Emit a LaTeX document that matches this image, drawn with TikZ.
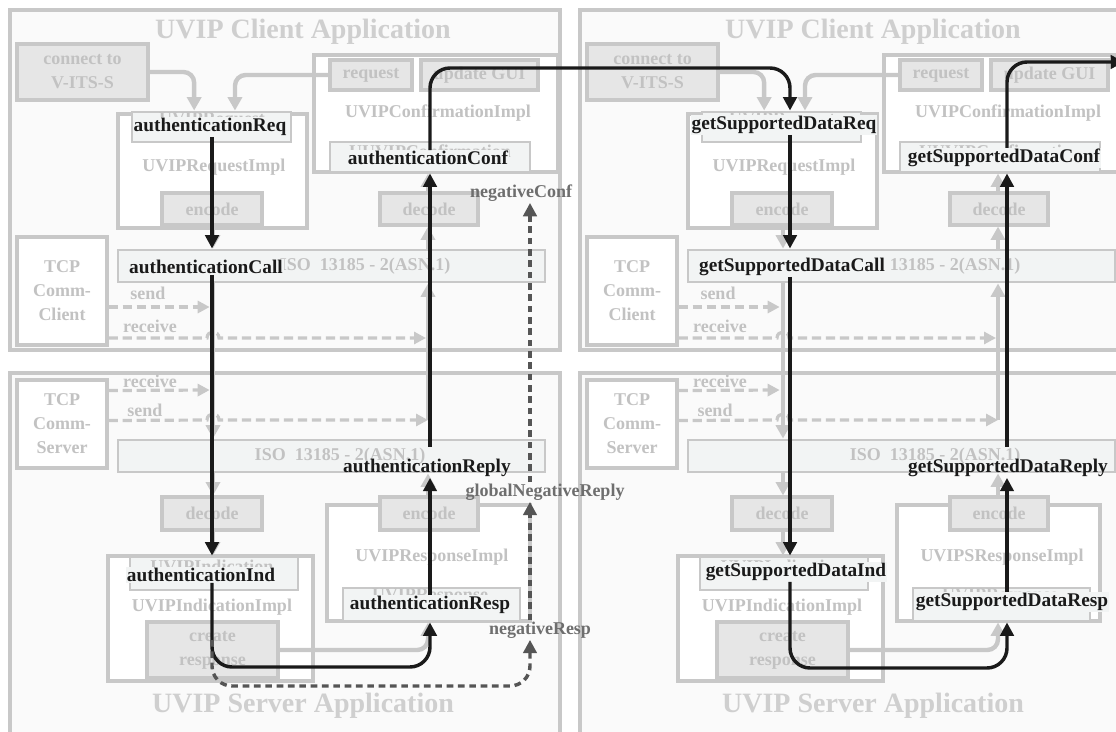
\documentclass[tikz,border=0pt]{standalone}
\usepackage{fontspec}
\setmainfont{Liberation Serif}
\usetikzlibrary{arrows.meta,fit}
\definecolor{panelfill}{HTML}{FAFAFA}
\definecolor{edge}{HTML}{C8C8C8}
\definecolor{boxfill}{HTML}{E6E6E6}
\definecolor{barfill}{HTML}{F2F4F4}
\definecolor{faint}{HTML}{C2C2C2}
\definecolor{titlegray}{HTML}{CFCFCF}
\definecolor{ink}{HTML}{1A1A1A}
\definecolor{negink}{HTML}{6E6E6E}
\definecolor{negline}{HTML}{555555}
\tikzset{
  boxbase/.style={inner sep=0pt, line width=2.4pt, draw=edge},
  panel/.style={boxbase, fill=panelfill},
  implbox/.style={boxbase, fill=white},
  opbox/.style={boxbase, fill=boxfill},
  bar/.style={boxbase, line width=2.2pt, fill=barfill},
  faintText/.style={text=faint, inner sep=0pt, align=center,
    font=\bfseries\fontsize{13.5}{18}\selectfont},
  paneltitle/.style={text=titlegray, inner sep=0pt,
    font=\bfseries\fontsize{21}{24}\selectfont},
  lbl/.style={text=ink, inner sep=0.6pt,
    font=\bfseries\fontsize{14.5}{16}\selectfont},
  lblfill/.style={lbl, fill=barfill},
  neg/.style={text=negink, inner sep=1pt,
    font=\bfseries\fontsize{13.5}{15}\selectfont},
  gflow/.style={draw=edge, line width=3.3pt, rounded corners=8pt,
    -{Triangle[length=10pt,width=10.5pt]}},
  gdash/.style={draw=edge, line width=2.4pt, dash pattern=on 7pt off 3.5pt,
    -{Triangle[length=9pt,width=9pt]}},
  flow/.style={draw=ink, line width=2.6pt, rounded corners=15pt,
    -{Triangle[length=10pt,width=10pt]}},
  negflow/.style={draw=negline, line width=2.6pt, rounded corners=15pt,
    dash pattern=on 5pt off 3.5pt, -{Triangle[length=10pt,width=10pt]}},
}
\begin{document}
\begin{tikzpicture}[x=0.75pt,y=-0.75pt]
\path[use as bounding box] (0,0) rectangle (1116,731);
\clip (0,0) rectangle (1116,731);
\fill[white] (0,0) rectangle (1116,731);

% two identical client/server stacks, side by side
\foreach \c/\s/\rimpl/\isox in {0/L/UVIPResponseImpl/340, 570/R/UVIPSResponseImpl/365} {
  % --- client application ---
  \node[panel, fit={(\c+10,10) (\c+560,350)}] (client\s) {};
  \node[paneltitle] (ctitle\s) at (\c+303,32) {UVIP Client Application};
  \node[opbox, fit={(\c+17,44) (\c+148,100)}] (connect\s) {};
  \node[faintText] (connectT\s) at (connect\s) {connect to\\V-ITS-S};
  \node[implbox, fit={(\c+314,55) (\c+558,172)}] (confImpl\s) {};
  \node[opbox, fit={(\c+330,60) (\c+412,90)}] (request\s) {};
  \node[faintText] (requestT\s) at (request\s) {request};
  \node[opbox, fit={(\c+421,60) (\c+538,90)}] (gui\s) {};
  \node[faintText] (guiT\s) at (gui\s) {update GUI};
  \node[faintText] (confImplT\s) at (\c+438,113) {UVIPConfirmationImpl};
  \node[bar, fit={(\c+330,142) (\c+530,172)}] (confIn\s) {};
  \node[faintText] (confInT\s) at (\c+430,151) {UUVIPConfirmation};
  \node[implbox, fit={(\c+118,114) (\c+307,228)}] (reqImpl\s) {};
  \node[bar, fit={(\c+132,112) (\c+291,142)}] (reqIn\s) {};
  \node[faintText] (reqInT\s) at (\c+212,121) {UVIPRequest};
  \node[faintText] (reqImplT\s) at (\c+214,167) {UVIPRequestImpl};
  \node[opbox, fit={(\c+162,193) (\c+262,225)}] (enc\s) {};
  \node[faintText] (encT\s) at (enc\s) {encode};
  \node[opbox, fit={(\c+380,193) (\c+478,225)}] (dec\s) {};
  \node[faintText] (decT\s) at (dec\s) {decode};
  \node[bar, fit={(\c+118,250) (\c+545,282)}] (isoC\s) {};
  \node[faintText] (isoCT\s) at (\c+365,266) {ISO~~13185 - 2(ASN.1)};
  \node[implbox, fit={(\c+17,237) (\c+107,345)}] (tcpC\s) {};
  \node[faintText] (tcpCT\s) at (tcpC\s) {TCP\\Comm-\\Client};
  \node[faintText] (sendCT\s) at (\c+148,293) {send};
  \node[faintText] (rcvCT\s) at (\c+150,326) {receive};

  % --- server application ---
  \node[panel, fit={(\c+10,373) (\c+560,745)}] (server\s) {};
  \node[paneltitle] (stitle\s) at (\c+303,706) {UVIP Server Application};
  \node[implbox, fit={(\c+17,380) (\c+107,468)}] (tcpS\s) {};
  \node[faintText] (tcpST\s) at (tcpS\s) {TCP\\Comm-\\Server};
  \node[faintText] (rcvST\s) at (\c+150,381) {receive};
  \node[faintText] (sendST\s) at (\c+145,410) {send};
  \node[bar, fit={(\c+118,440) (\c+545,472)}] (isoS\s) {};
  \node[faintText] (isoST\s) at (\c+\isox,456) {ISO~~13185 - 2(ASN.1)};
  \node[implbox, fit={(\c+327,505) (\c+530,621)}] (respImpl\s) {};
  \node[opbox, fit={(\c+162,497) (\c+262,530)}] (dec2\s) {};
  \node[faintText] (dec2T\s) at (dec2\s) {decode};
  \node[opbox, fit={(\c+380,497) (\c+478,530)}] (enc2\s) {};
  \node[faintText] (enc2T\s) at (enc2\s) {encode};
  \node[faintText] (respImplT\s) at (\c+432,557) {\rimpl};
  \node[bar, fit={(\c+343,588) (\c+520,621)}] (respIn\s) {};
  \node[faintText] (respInT\s) at (\c+430,597) {UVIPResponse};
  \node[implbox, fit={(\c+108,556) (\c+313,681)}] (indImpl\s) {};
  \node[bar, fit={(\c+130,557) (\c+298,590)}] (indIn\s) {};
  \node[faintText] (indInT\s) at (\c+212,566) {UVIPIndication};
  \node[faintText] (indImplT\s) at (\c+212,607) {UVIPIndicationImpl};
  \node[opbox, fit={(\c+147,622) (\c+278,678)}] (create\s) {};
  \node[faintText] (createT\s) at (create\s) {create\\response};

  % --- grey data path ---
  \coordinate (gA\s) at (\c+213,0);
  \coordinate (gB\s) at (\c+428,0);
  \coordinate (sendEnd\s) at (\c+428,420);
  \draw[gflow] (connect\s.east) -| ([xshift=-13pt]reqIn\s.north);
  \draw[gflow] (request\s.west) -| ([xshift=17.6pt]reqIn\s.north);
  \draw[gflow] (enc\s.south -| gA\s) -- (isoC\s.north -| gA\s);
  \draw[gflow] (isoC\s.north -| gB\s) -- (dec\s.south -| gB\s);
  \draw[gflow] (dec\s.north -| gB\s) -- (confImpl\s.south -| gB\s);
  \draw[gflow] (isoC\s.south -| gA\s) -- (isoS\s.north -| gA\s);
  \draw[gflow] (sendEnd\s) -- (isoC\s.south -| gB\s);
  \draw[gflow] (isoS\s.south -| gA\s) -- (dec2\s.north -| gA\s);
  \draw[gflow] (dec2\s.south -| gA\s) -- (indIn\s.north -| gA\s);
  \draw[gflow] (enc2\s.north -| gB\s) -- (isoS\s.south -| gB\s);
  \draw[gflow] (create\s.east) -| (respIn\s.south -| gB\s);
  % TCP send / receive
  \draw[gdash, shorten >=1pt] ([yshift=-12pt]tcpC\s.east) -- (\c+211,307);
  \draw[gdash] ([yshift=-35.25pt]tcpC\s.east) -- (\c+207,338)
     .. controls (\c+207,330) and (\c+219,330) .. (\c+219,338) -- (\c+426,338);
  \draw[gdash, shorten >=1pt] ([yshift=25.1pt]tcpS\s.east) -- (\c+211,390);
  \draw[gdash] ([yshift=2.6pt]tcpS\s.east) -- (\c+207,420)
     .. controls (\c+207,412) and (\c+219,412) .. (\c+219,420) -- (sendEnd\s);
}

% --- message labels ---
\node[lblfill] (aReq) at (210,127) {authenticationReq};
\node[lblfill] (aConf) at (428,158) {authenticationConf};
\node[lblfill] (aCall) at (206,267) {authenticationCall};
\node[lbl] (aReply) at (427,468) {authenticationReply};
\node[lblfill] (aInd) at (201,575) {authenticationInd};
\node[lblfill] (aResp) at (430,605) {authenticationResp};
\node[lblfill] (gReq) at (784,125) {getSupportedDataReq};
\node[lblfill] (gConf) at (1004,158) {getSupportedDataConf};
\node[lblfill] (gCall) at (792,267) {getSupportedDataCall};
\node[lbl] (gReply) at (1008,468) {getSupportedDataReply};
\node[lblfill] (gInd) at (796,572) {getSupportedDataInd};
\node[lblfill] (gResp) at (1012,602) {getSupportedDataResp};
\node[neg] (nConf) at (521,193) {negativeConf};
\node[neg] (gNeg) at (545,492) {globalNegativeReply};
\node[neg] (nResp) at (540,630) {negativeResp};

% --- message flow columns ---
\coordinate (colA) at (212,0);
\coordinate (colB) at (430,0);
\coordinate (colC) at (790,0);
\coordinate (colD) at (1007,0);
\coordinate (colN) at (530,0);
\coordinate (topL) at (0,68);
\coordinate (lowL) at (0,667);
\coordinate (lowR) at (0,668);
\coordinate (lowN) at (0,686);
\coordinate (split) at (212,640);
\coordinate (exitR) at (1124,62);

% authentication exchange
\draw[flow] (aReq.south -| colA) -- (isoCL.north -| colA);
\draw[flow] (aCall.south -| colA) -- (indInL.north -| colA);
\draw[flow] (aInd.south -| colA) |- (colB |- lowL) -- (respInL.south -| colB);
\draw[flow] (aResp.north -| colB) -- (aReply.south -| colB);
\draw[flow] ([yshift=-6pt]isoSL.north -| colB) -- (confInL.south -| colB);
\draw[flow] (aConf.north -| colB) |- (colC |- topL) -- (reqInR.north -| colC);

% negative path
\draw[negflow] (split) |- (colN |- lowN) -- (nResp.south -| colN);
\draw[negflow] (nResp.north -| colN) -- (gNeg.south -| colN);
\draw[negflow] (gNeg.north -| colN) -- (nConf.south -| colN);

% getSupportedData exchange
\draw[flow] (gReq.south -| colC) -- (isoCR.north -| colC);
\draw[flow] (gCall.south -| colC) -- (indInR.north -| colC);
\draw[flow] (gInd.south -| colC) |- (colD |- lowR) -- (respInR.south -| colD);
\draw[flow] (gResp.north -| colD) -- (gReply.south -| colD);
\draw[flow] ([yshift=-6pt]isoSR.north -| colD) -- (confInR.south -| colD);
\draw[flow] (gConf.north -| colD) |- (exitR);
\end{tikzpicture}
\end{document}
